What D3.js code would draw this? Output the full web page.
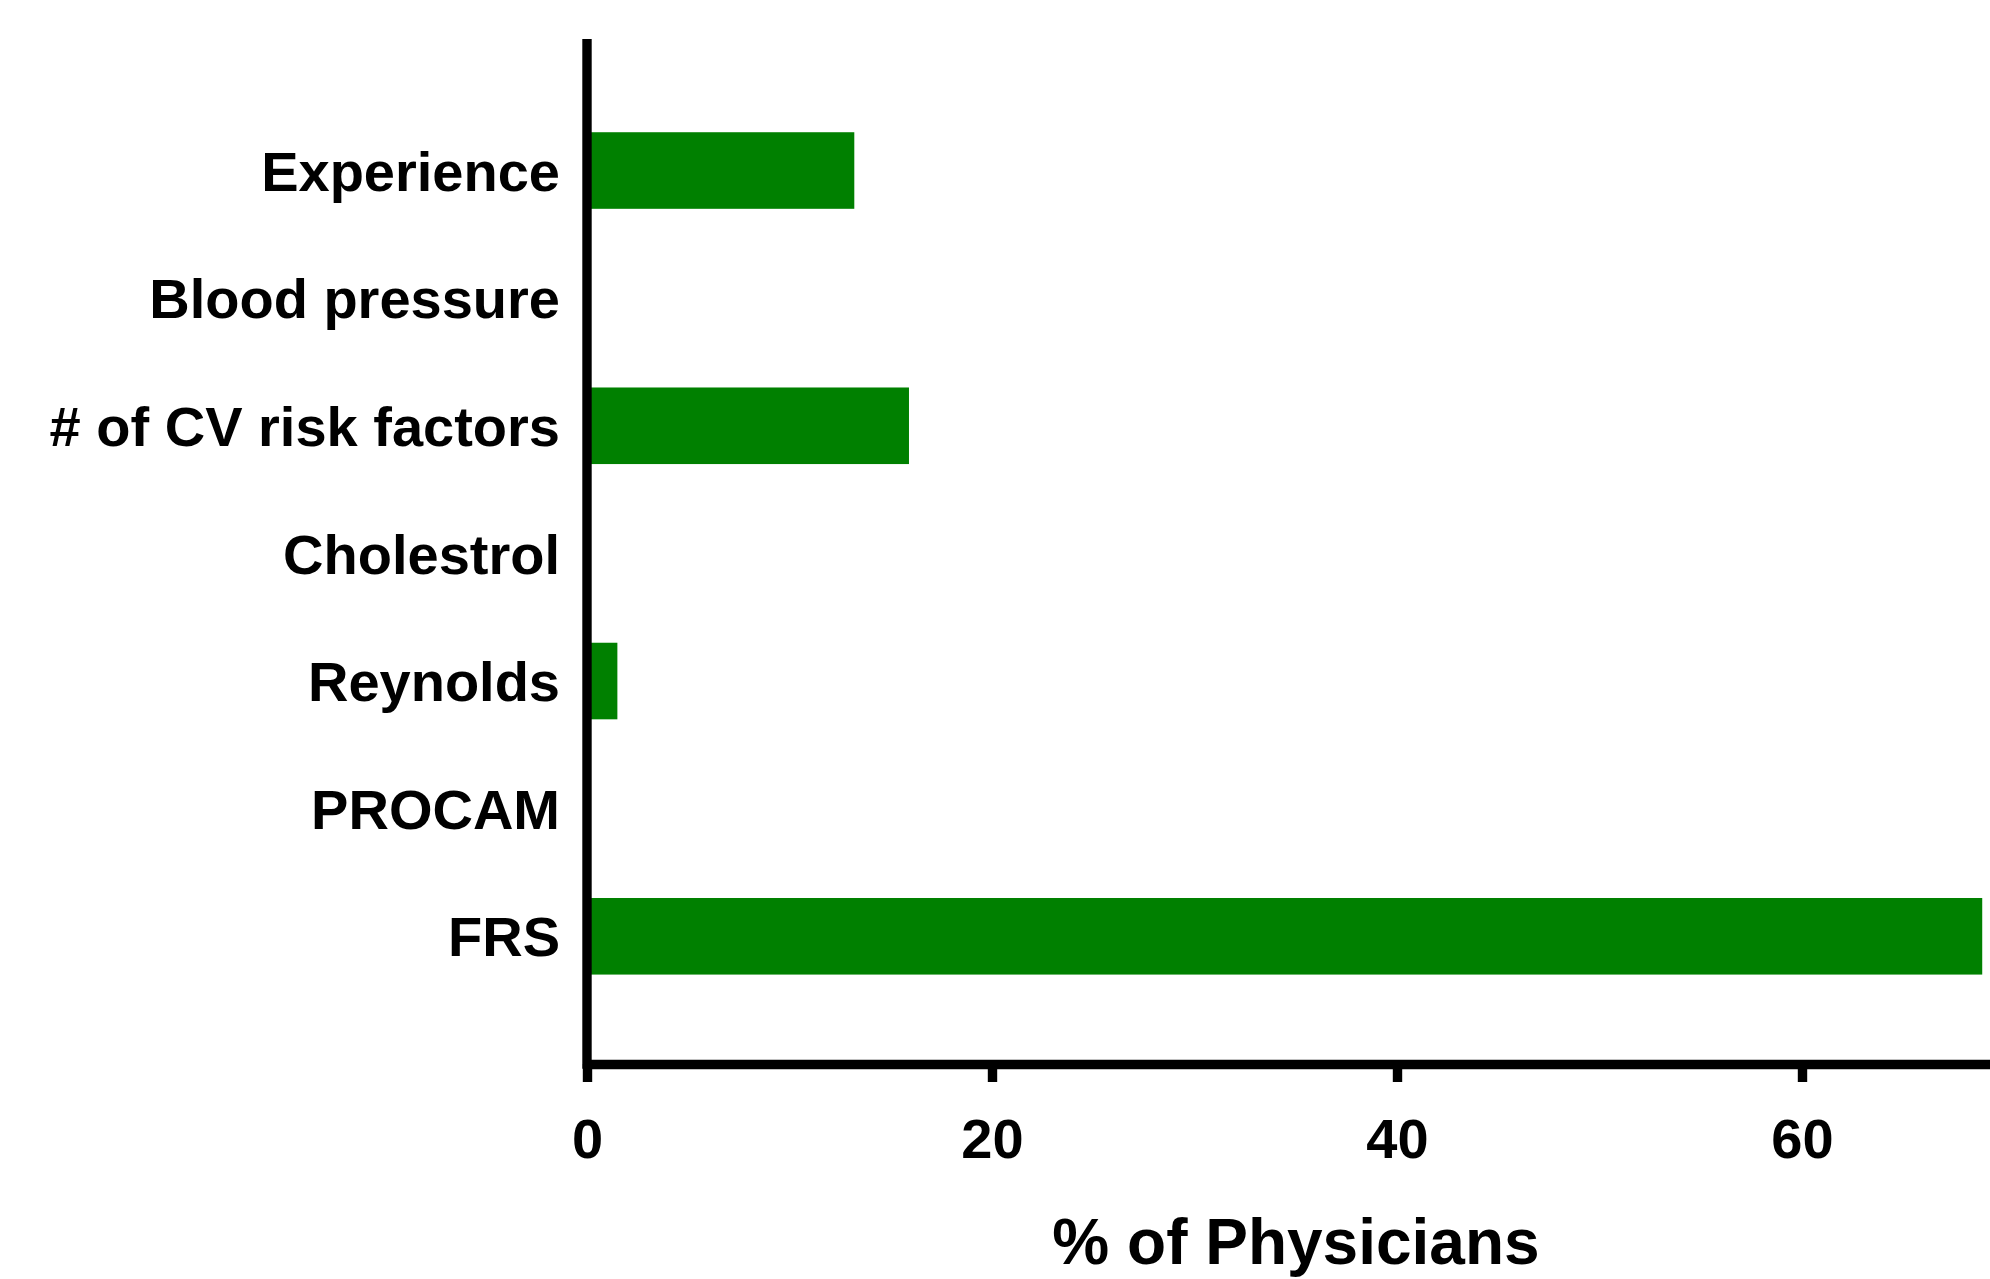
<!DOCTYPE html>
<html>
<head>
<meta charset="utf-8">
<script src="https://cdn.jsdelivr.net/npm/d3@7"></script>
<style>
  html, body { margin: 0; padding: 0; background: #ffffff; }
  svg { display: block; }
  text { font-family: "Liberation Sans", Arial, Helvetica, sans-serif; font-weight: bold; fill: #000; }
</style>
</head>
<body>
<svg id="chart" width="1990" height="1279"></svg>
<script>
// Data
const categories = ["Experience", "Blood pressure", "# of CV risk factors", "Cholestrol", "Reynolds", "PROCAM", "FRS"];
const values = [13.2, 0, 15.9, 0, 1.5, 0, 68.9];
const xTicks = [0, 20, 40, 60];
const xTitle = "% of Physicians";

const svg = d3.select("#chart");
const x0 = 587, x1 = 1990;
const axisY = 1064, axisTop = 39;
const lw = 9.4;
const green = "#008000";

const x = d3.scaleLinear().domain([0, (x1 - x0) / 20.25]).range([x0, x1]);
const y = d3.scaleBand().domain(categories).range([106.7, 1000.1]).paddingInner(0.4).paddingOuter(0.2);

// Bars
svg.append("g").selectAll("rect")
  .data(categories.map((c, i) => ({ c, v: values[i] })))
  .join("rect")
  .attr("x", x(0))
  .attr("y", d => y(d.c))
  .attr("width", d => Math.max(0, x(d.v) - x(0)))
  .attr("height", y.bandwidth())
  .attr("fill", green);

// X axis
const xAxis = svg.append("g")
  .attr("transform", `translate(0,${axisY})`)
  .call(d3.axisBottom(x).tickValues(xTicks).tickFormat(d3.format("d")).tickSize(18).tickSizeOuter(0).tickPadding(36));
xAxis.select(".domain").attr("stroke", "#000").attr("stroke-width", lw);
xAxis.selectAll(".tick line").attr("stroke", "#000").attr("stroke-width", lw);
xAxis.selectAll(".tick text").attr("font-size", 56).attr("font-family", null).style("font-weight", "bold").attr("fill", "#000");

// Y axis (labels)
const yAxis = svg.append("g")
  .attr("transform", `translate(${x0},0)`)
  .call(d3.axisLeft(y).tickSize(0).tickPadding(27));
yAxis.select(".domain").remove();
yAxis.selectAll(".tick text").attr("font-size", 56).attr("font-family", null).attr("dy", "0.36em").style("font-weight", "bold").attr("fill", "#000");

// Y axis line
svg.append("line")
  .attr("x1", x0).attr("x2", x0)
  .attr("y1", axisTop).attr("y2", axisY + lw / 2)
  .attr("stroke", "#000").attr("stroke-width", lw);

// X title
svg.append("text")
  .attr("x", 1296).attr("y", 1264)
  .attr("text-anchor", "middle")
  .attr("font-size", 64)
  .text(xTitle);
</script>
</body>
</html>
